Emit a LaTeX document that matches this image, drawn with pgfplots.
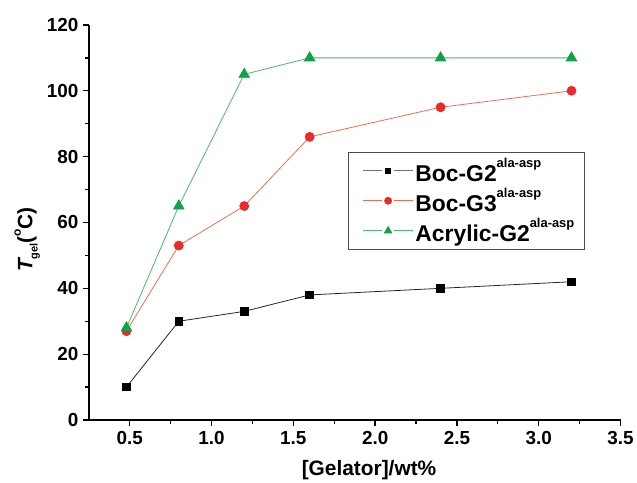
\documentclass[border=0pt]{standalone}
\usepackage{fontspec}
\setmainfont{Liberation Sans}
\usepackage{pgfplots}
\pgfplotsset{compat=1.18}
\definecolor{cred}{HTML}{EC2A2C}
\definecolor{credl}{HTML}{F26B4F}
\definecolor{cgreen}{HTML}{12A048}
\definecolor{cgreenl}{HTML}{45BC6E}
\newcommand\supx[1]{\raisebox{0.62em}{\fontsize{13}{13}\selectfont #1}}
\newcommand\lent[1]{\makebox[153bp][l]{#1}}
\pgfplotsset{
  gapline/.style={legend image code/.code={
    \draw[##1, mark=none] (0bp,0bp) -- (19bp,0bp) (31bp,0bp) -- (50bp,0bp);
    \draw[##1, only marks, mark size=#1] plot coordinates {(25bp,0bp)};}},
}
\begin{document}
\begin{tikzpicture}
\begin{axis}[
  scale only axis,
  width=533bp, height=396bp,
  xmin=0.25, xmax=3.5, ymin=0, ymax=120,
  axis x line*=bottom, axis y line*=left,
  axis line style={line width=1.6pt},
  xtick={0.5,1.0,...,3.5}, minor x tick num=1,
  ytick={0,20,...,120}, minor y tick num=1,
  tick align=outside,
  major tick length=6bp, minor tick length=4bp,
  tick style={line width=1.3pt, black},
  xticklabel={\bfseries\pgfmathprintnumber[assume math mode=true,fixed,fixed zerofill,precision=1]{\tick}},
  yticklabel={\bfseries\pgfmathprintnumber[assume math mode=true,fixed,precision=0]{\tick}},
  tick label style={font=\fontsize{19}{21}\selectfont\bfseries},
  xticklabel style={yshift=-2bp},
  yticklabel style={xshift=-1bp},
  xlabel={\bfseries [Gelator]/wt\%},
  ylabel={\bfseries\itshape T\raisebox{-0.25em}{\upshape\fontsize{11}{11}\selectfont gel}\upshape(\raisebox{0.55em}{\fontsize{12}{12}\selectfont o}C)},
  label style={font=\fontsize{21}{23}\selectfont},
  xlabel style={at={(axis description cs:0.527,-0.126)}, anchor=center},
  ylabel style={at={(axis description cs:-0.116,0.457)}, anchor=center},
  legend style={at={(0.488,0.679)}, anchor=north west, draw=black!70, line width=1pt,
    font=\fontsize{23}{25}\selectfont\bfseries, row sep=1bp,
    inner xsep=14bp, inner ysep=4bp,
    nodes={inner sep=2bp}},
  legend cell align=left,
]
\addplot[black!85, line width=0.8pt, mark=square*, mark size=3.8bp,
  mark options={black}, gapline=2.6bp, legend image post style={black!55}]
  coordinates {(0.48,10) (0.8,30) (1.2,33) (1.6,38) (2.4,40) (3.2,42)};
\addlegendentry{\lent{Boc-G2\supx{ala-asp}}}
\addplot[credl, line width=0.8pt, mark=*, mark size=4.5bp,
  mark options={cred, fill=cred}, gapline=3.5bp]
  coordinates {(0.48,27) (0.8,53) (1.2,65) (1.6,86) (2.4,95) (3.2,100)};
\addlegendentry{\lent{Boc-G3\supx{ala-asp}}}
\addplot[cgreenl, line width=0.8pt, mark=triangle*, mark size=6bp,
  mark options={cgreen, fill=cgreen}, gapline=4.2bp]
  coordinates {(0.48,28) (0.8,65) (1.2,105) (1.6,110) (2.4,110) (3.2,110)};
\addlegendentry{\lent{Acrylic-G2\supx{ala-asp}}}
\end{axis}
\path (current axis.south west) ++(-89bp,-62bp) rectangle ++(637bp,483bp);
\end{tikzpicture}
\end{document}
